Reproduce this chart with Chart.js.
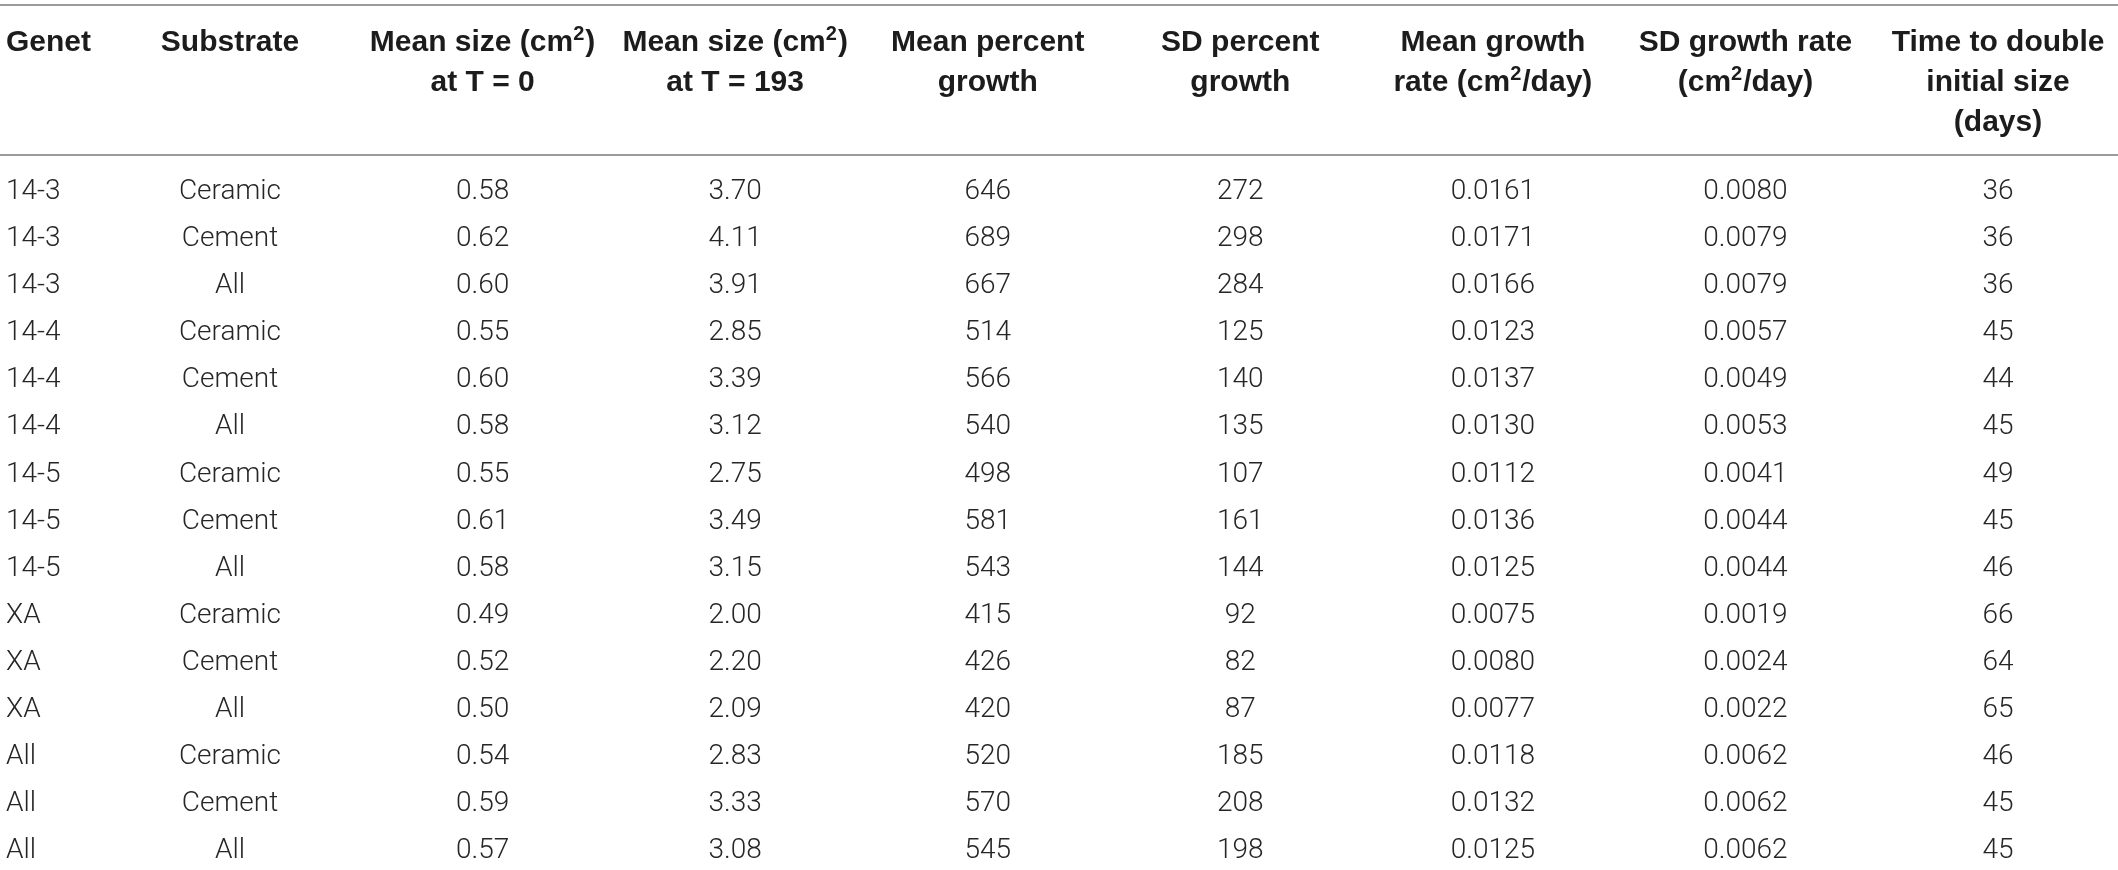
<!DOCTYPE html>
<html lang="en">

<head>
    <meta charset="UTF-8">
    <meta name="viewport" content="width=device-width, initial-scale=1.0">
    <title>Growth by genet and substrate</title>
    <script src="https://cdn.jsdelivr.net/npm/chart.js"></script>
    <style>
        html, body { margin: 0; padding: 0; background: #ffffff; }
        #wrap { width: 2118px; height: 870px; }
    </style>
</head>

<body>
    <div id="wrap"><canvas id="tableCanvas"></canvas></div>

    <script>
        // one entry per table row
        const genets = ['14-3', '14-3', '14-3', '14-4', '14-4', '14-4', '14-5', '14-5', '14-5', 'XA', 'XA', 'XA', 'All', 'All', 'All'];
        const substrates = ['Ceramic', 'Cement', 'All', 'Ceramic', 'Cement', 'All', 'Ceramic', 'Cement', 'All', 'Ceramic', 'Cement', 'All', 'Ceramic', 'Cement', 'All'];
        const sizeT0 = [0.58, 0.62, 0.60, 0.55, 0.60, 0.58, 0.55, 0.61, 0.58, 0.49, 0.52, 0.50, 0.54, 0.59, 0.57];
        const sizeT193 = [3.70, 4.11, 3.91, 2.85, 3.39, 3.12, 2.75, 3.49, 3.15, 2.00, 2.20, 2.09, 2.83, 3.33, 3.08];
        const meanPercent = [646, 689, 667, 514, 566, 540, 498, 581, 543, 415, 426, 420, 520, 570, 545];
        const sdPercent = [272, 298, 284, 125, 140, 135, 107, 161, 144, 92, 82, 87, 185, 208, 198];
        const meanRate = [0.0161, 0.0171, 0.0166, 0.0123, 0.0137, 0.0130, 0.0112, 0.0136, 0.0125, 0.0075, 0.0080, 0.0077, 0.0118, 0.0132, 0.0125];
        const sdRate = [0.0080, 0.0079, 0.0079, 0.0057, 0.0049, 0.0053, 0.0041, 0.0044, 0.0044, 0.0019, 0.0024, 0.0022, 0.0062, 0.0062, 0.0062];
        const doubleDays = [36, 36, 36, 45, 44, 45, 49, 45, 46, 66, 64, 65, 46, 45, 45];

        // column headings, one array of lines per column
        const headers = [
            ['Genet'],
            ['Substrate'],
            ['Mean size (cm²)', 'at T = 0'],
            ['Mean size (cm²)', 'at T = 193'],
            ['Mean percent', 'growth'],
            ['SD percent', 'growth'],
            ['Mean growth', 'rate (cm²/day)'],
            ['SD growth rate', '(cm²/day)'],
            ['Time to double', 'initial size', '(days)']
        ];

        const columns = [
            { values: genets, fmt: v => v },
            { values: substrates, fmt: v => v },
            { values: sizeT0, fmt: v => v.toFixed(2) },
            { values: sizeT193, fmt: v => v.toFixed(2) },
            { values: meanPercent, fmt: v => String(v) },
            { values: sdPercent, fmt: v => String(v) },
            { values: meanRate, fmt: v => v.toFixed(4) },
            { values: sdRate, fmt: v => v.toFixed(4) },
            { values: doubleDays, fmt: v => String(v) }
        ];

        // every cell becomes an invisible point at (column, row)
        const cells = [];
        columns.forEach((col, c) => {
            col.values.forEach((v, r) => cells.push({ x: c, y: r, text: col.fmt(v) }));
        });

        const HEAD_FONT = 'bold 30px "Liberation Sans", Arial, sans-serif';
        const SUP_FONT = 'bold 20px "Liberation Sans", Arial, sans-serif';
        const BODY_FONT = '300 28px Roboto, "Liberation Sans", sans-serif';

        // header line with a raised, smaller "2" for cm²
        function drawHeadLine(ctx, text, x, y, alignLeft) {
            const parts = text.split('²');
            const pieces = [];
            parts.forEach((p, i) => {
                if (p) pieces.push({ t: p, sup: false });
                if (i < parts.length - 1) pieces.push({ t: '2', sup: true });
            });
            let total = 0;
            pieces.forEach(pc => {
                ctx.font = pc.sup ? SUP_FONT : HEAD_FONT;
                pc.w = ctx.measureText(pc.t).width + (pc.sup ? 1 : 0);
                total += pc.w;
            });
            let cx = alignLeft ? x : x - total / 2;
            ctx.textAlign = 'left';
            pieces.forEach(pc => {
                ctx.font = pc.sup ? SUP_FONT : HEAD_FONT;
                ctx.fillText(pc.t, cx, pc.sup ? y - 9 : y);
                cx += pc.w;
            });
        }

        const tablePlugin = {
            id: 'tableText',
            afterDatasetsDraw(chart) {
                const ctx = chart.ctx;
                const area = chart.chartArea;
                const xs = chart.scales.x;
                ctx.save();

                // horizontal rules above and below the header
                ctx.strokeStyle = '#9c9c9c';
                ctx.lineWidth = 2;
                [5, 155].forEach(y => {
                    ctx.beginPath();
                    ctx.moveTo(area.left, area.top + y);
                    ctx.lineTo(area.right, area.top + y);
                    ctx.stroke();
                });

                // header
                ctx.fillStyle = '#1c1c1c';
                ctx.textBaseline = 'middle';
                headers.forEach((lines, c) => {
                    const first = c === 0;
                    const x = first ? area.left + 6 : xs.getPixelForValue(c);
                    lines.forEach((t, k) => drawHeadLine(ctx, t, x, area.top + 43 + k * 40, first));
                });

                // body cells
                const meta = chart.getDatasetMeta(0);
                const data = chart.data.datasets[0].data;
                ctx.font = BODY_FONT;
                ctx.fillStyle = '#262626';
                meta.data.forEach((pt, i) => {
                    const d = data[i];
                    const first = d.x === 0;
                    ctx.textAlign = first ? 'left' : 'center';
                    ctx.fillText(d.text, first ? area.left + 6 : pt.x, pt.y);
                });
                ctx.restore();
            }
        };

        new Chart(document.getElementById('tableCanvas'), {
            type: 'scatter',
            data: {
                datasets: [{
                    data: cells,
                    pointRadius: 0,
                    pointHoverRadius: 0,
                    showLine: false
                }]
            },
            options: {
                responsive: true,
                maintainAspectRatio: false,
                animation: false,
                events: [],
                layout: { padding: 0 },
                plugins: {
                    legend: { display: false },
                    tooltip: { enabled: false }
                },
                scales: {
                    x: { type: 'linear', min: 0.0894, max: 8.475, display: false },
                    y: { type: 'linear', min: -4.076, max: 14.395, reverse: true, display: false }
                }
            },
            plugins: [tablePlugin]
        });
    </script>

</body>

</html>
